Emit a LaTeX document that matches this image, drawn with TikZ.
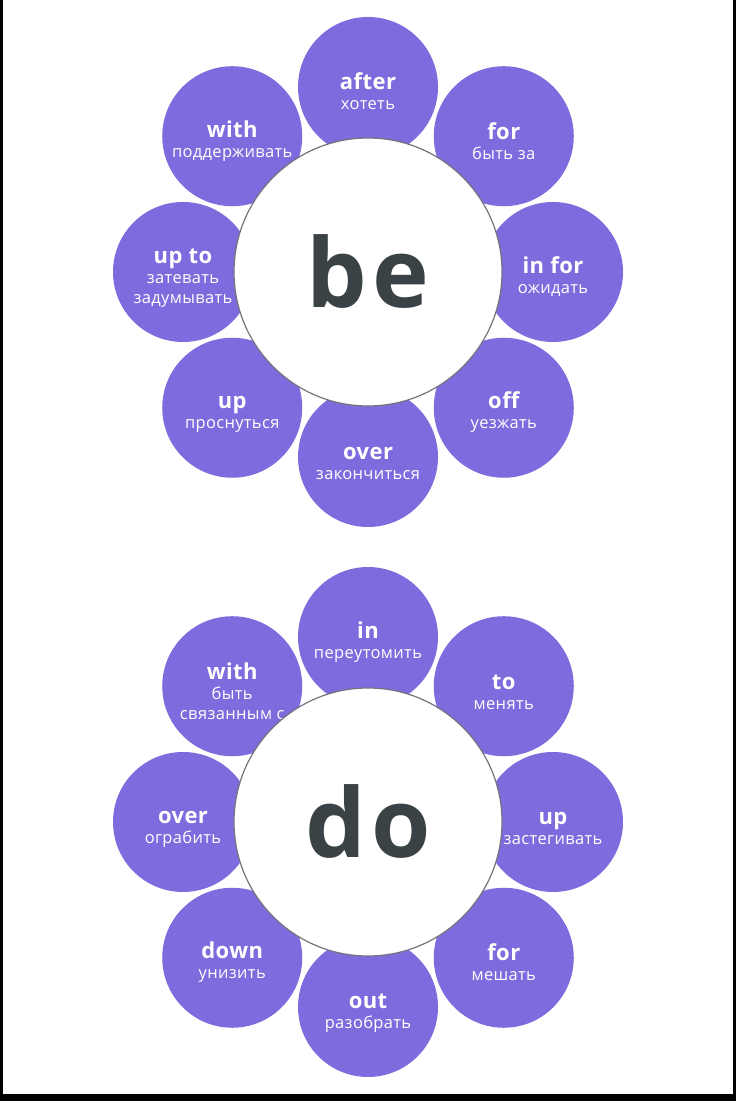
\documentclass[tikz,border=0pt]{standalone}
\usepackage{fontspec}
\setmainfont{Open Sans}
\usetikzlibrary{positioning}
\definecolor{petalblue}{RGB}{124,108,222}
\definecolor{slate}{RGB}{58,66,70}
\definecolor{rim}{RGB}{115,115,125}
\newcommand{\prep}[1]{{\fontsize{11}{10}\selectfont\bfseries\rule{0pt}{13pt}#1}}
\tikzset{
  petal/.style={circle,fill=petalblue,text=white,minimum size=70pt,inner sep=0pt,
    align=center,font=\fontsize{8.25}{10}\selectfont\addfontfeatures{LetterSpace=2}},
  hub/.style={circle,fill=white,draw=rim,line width=0.6pt,minimum size=134pt,inner sep=0pt,
    text=slate,font=\fontsize{48}{48}\selectfont\bfseries\addfontfeatures{LetterSpace=6}},
}

\begin{document}
\begin{tikzpicture}[x=0.5pt,y=0.5pt]
  % frame
  \fill[black] (0,0) rectangle (736,1101);
  \fill[white] (3,7) rectangle (733,1101);
  % be
  \coordinate (bec) at (368,829);
  \foreach \a/\d/\n/\t in {90/185/after/{\prep{after}\\хотеть},
      45/192/for/{\prep{for}\\быть за},
      0/185/infor/{\prep{in for}\\ожидать},
      -45/192/off/{\prep{off}\\уезжать},
      -90/185/over/{\prep{over}\\закончиться},
      -135/192/up/{\prep{up}\\проснуться},
      180/185/upto/{\prep{up to}\\затевать\\задумывать},
      135/192/with/{\prep{with}\\поддерживать}}
    \node[petal] (be-\n) at ([shift={(\a:\d)}]bec) {\t};
  \node[hub] (be) at (bec) {be};
  % do
  \coordinate (doc) at (368,279);
  \foreach \a/\d/\n/\t in {90/185/in/{\prep{in}\\переутомить},
      45/192/to/{\prep{to}\\менять},
      0/185/up/{\prep{up}\\застегивать},
      -45/192/for/{\prep{for}\\мешать},
      -90/185/out/{\prep{out}\\разобрать},
      -135/192/down/{\prep{down}\\унизить},
      180/185/over/{\prep{over}\\ограбить},
      135/192/with/{\prep{with}\\быть\\связанным с}}
    \node[petal] (do-\n) at ([shift={(\a:\d)}]doc) {\t};
  \node[hub] (do) at (doc) {do};
\end{tikzpicture}
\end{document}
